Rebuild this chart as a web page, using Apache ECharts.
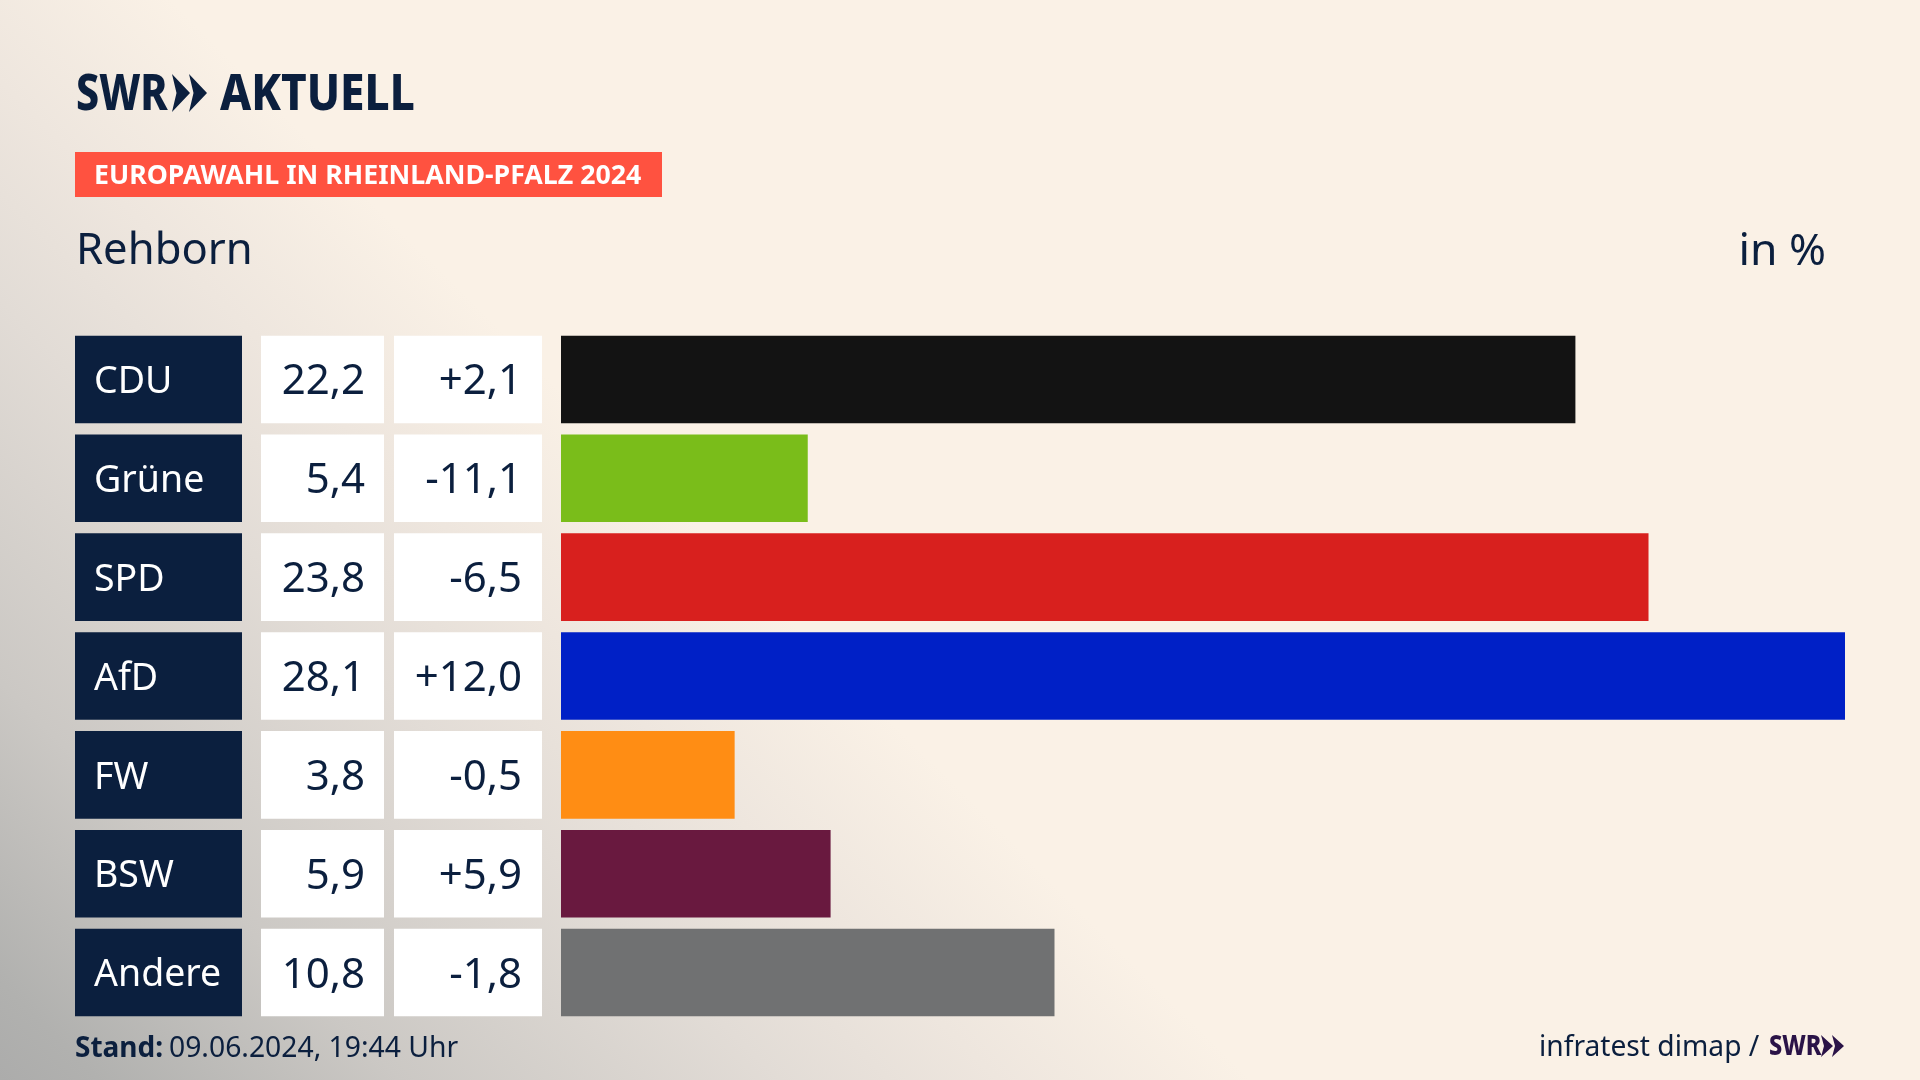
<!DOCTYPE html>
<html lang="de"><head><meta charset="utf-8"><title>Europawahl Rehborn</title>
<script src="https://cdn.jsdelivr.net/npm/echarts@6/dist/echarts.min.js"></script>
<style>
html,body{margin:0;padding:0;width:1920px;height:1080px;overflow:hidden;background:#FAF1E6}
body{background:linear-gradient(45deg,#acacab 0%,#b1b1af 3.3%,#cbc8c4 13.3%,#e2dcd6 26%,#eee6de 33.3%,#faf1e6 41.7%,#faf1e6 100%)}
#c{width:1920px;height:1080px}
</style></head><body><div id="c"></div>
<script>
const parties = ['CDU','Grüne','SPD','AfD','FW','BSW','Andere'];
const shares = [22.2,5.4,23.8,28.1,3.8,5.9,10.8];
const changes = [2.1,-11.1,-6.5,12.0,-0.5,5.9,-1.8];
const barColors = ['#131313','#7ABD1A','#D8201E','#0020C6','#FF8D14','#69193F','#707172'];
const maxShare = 28.1;

const navy = '#0B1F3E', font = '"Noto Sans"', cellH = 87.6;
const gridTop = 330, gridBottom = 58;
const num = v => v.toFixed(1).replace('.', ',');
const signed = v => (v > 0 ? '+' : '') + num(v);
const cols = [
  {left:75,  width:167, fill:navy,   color:'#fff', align:'left',  pad:19, size:37.5, text:parties},
  {left:261, width:123, fill:'#fff', color:navy,   align:'right', pad:19, size:42, text:shares.map(num)},
  {left:394, width:148, fill:'#fff', color:navy,   align:'right', pad:20, size:42, text:changes.map(signed)}
];
const grids = [{left:561,width:1284,top:gridTop,bottom:gridBottom}].concat(cols.map(c=>({left:c.left,width:c.width,top:gridTop,bottom:gridBottom})));
const xAxes = grids.map((g,i)=>({gridIndex:i,type:'value',min:0,max:i?1:maxShare,show:false}));
const yAxes = grids.map((g,i)=>({gridIndex:i,type:'category',inverse:true,data:parties,show:false}));
const series = [{
  type:'bar',xAxisIndex:0,yAxisIndex:0,barWidth:cellH,silent:true,animation:false,
  data:shares.map((v,i)=>({value:v,itemStyle:{color:barColors[i]}}))
}].concat(cols.map((c,ci)=>({
  type:'custom',xAxisIndex:ci+1,yAxisIndex:ci+1,silent:true,animation:false,clip:false,
  encode:{x:0,y:1},
  data:parties.map(p=>[0,p]),
  renderItem(params,api){
    const y = api.coord([0,params.dataIndex])[1];
    const g = params.coordSys;
    return {type:'group',children:[
      {type:'rect',shape:{x:g.x,y:y-cellH/2,width:g.width,height:cellH},style:{fill:c.fill}},
      {type:'text',style:{x:c.align==='left'?g.x+c.pad:g.x+g.width-c.pad,y:y+3,text:c.text[params.dataIndex],
        fill:c.color,font:`${c.size}px ${font}`,textAlign:c.align,textVerticalAlign:'middle'}}
    ]};
  }
})));
const txt = (x,y,text,size,weight,fill,align,sx) => ({type:'text',x,y,scaleX:sx||1,
  style:{text,fill,font:`${weight} ${size}px ${font}`,textAlign:align||'left',textVerticalAlign:'middle'}});
const chev = (x,y,h,w,t,fill) => ({type:'polygon',shape:{points:[[x,y],[x+w,y+h/2],[x,y+h],[x+t,y+h/2]]},style:{fill}});
const graphic = [
  txt(76,96,'SWR',49,800,navy,'left',0.84),
  chev(172,74,38,18,4.5,navy), chev(189,74,38,18,4.5,navy),
  txt(220,96,'AKTUELL',49,800,navy,'left',0.9),
  {type:'rect',shape:{x:75,y:152,width:587,height:45},style:{fill:'#FF5240'}},
  txt(94,176.5,'EUROPAWAHL IN RHEINLAND-PFALZ 2024',27,700,'#fff','left',0.99),
  txt(76,252,'Rehborn',43.6,400,navy),
  txt(1826,252,'in %',44.5,400,navy,'right'),
  txt(75,1049,'Stand:',28,700,navy),
  txt(169,1049,'09.06.2024, 19:44 Uhr',28.3,400,navy),
  txt(1539,1048,'infratest dimap /',28.2,400,navy),
  txt(1769,1047,'SWR',28,800,'#2A1347','left',0.84),
  chev(1821,1035,22,12,3,'#2A1347'), chev(1832,1035,22,12,3,'#2A1347')
];
const chart = echarts.init(document.getElementById('c'));
chart.setOption({animation:false,backgroundColor:'transparent',grid:grids,xAxis:xAxes,yAxis:yAxes,series,graphic});
</script></body></html>
